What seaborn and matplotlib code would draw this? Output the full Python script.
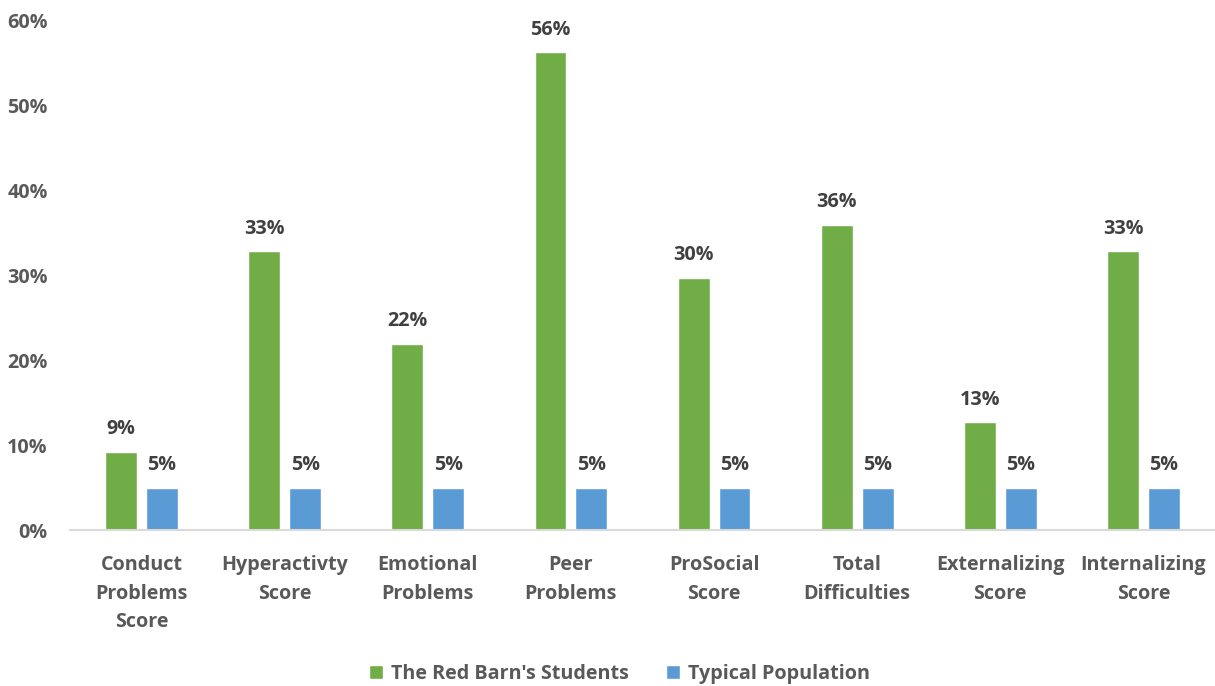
import matplotlib
matplotlib.use("Agg")
import matplotlib.pyplot as plt
import seaborn as sns
import pandas as pd
from matplotlib.ticker import PercentFormatter
from matplotlib.patches import Patch

categories = ["Conduct\nProblems\nScore", "Hyperactivty\nScore", "Emotional\nProblems",
              "Peer\nProblems", "ProSocial\nScore", "Total\nDifficulties",
              "Externalizing\nScore", "Internalizing\nScore"]
series_names = ["The Red Barn's Students", "Typical Population"]
red_barn = [0.092, 0.328, 0.219, 0.562, 0.297, 0.359, 0.127, 0.328]
typical = [0.05, 0.05, 0.05, 0.05, 0.05, 0.05, 0.05, 0.05]
y_ticks = [0, 0.1, 0.2, 0.3, 0.4, 0.5, 0.6]

colors = ["#70AD47", "#5B9BD5"]
txt = "#595959"

df = pd.DataFrame({
    "category": categories * 2,
    "series": [series_names[0]] * len(categories) + [series_names[1]] * len(categories),
    "value": red_barn + typical,
})

sns.set_theme(style="white")
plt.rcParams["font.family"] = ["Open Sans", "DejaVu Sans"]
plt.rcParams["font.weight"] = "bold"

fs = 14.2

fig = plt.figure(figsize=(12.15, 6.86), dpi=100)
ax = fig.add_axes([0.0576, 0.2274, 0.9424, 0.7434])

sns.barplot(data=df, x="category", y="value", hue="series", palette=colors,
            width=0.5715, gap=0.22, ax=ax, legend=False, saturation=1)

for cont in ax.containers:
    for bar in cont:
        h = bar.get_height()
        ax.annotate(f"{h*100:.0f}%", (bar.get_x() + bar.get_width() / 2, h),
                    xytext=(0, 9), textcoords="offset points", ha="center", va="bottom",
                    fontsize=fs, fontweight="bold", color="#404040")

ax.set_ylim(0, 0.6)
ax.set_xlim(-0.5, len(categories) - 0.5)
ax.set_yticks(y_ticks)
ax.yaxis.set_major_formatter(PercentFormatter(1.0, decimals=0))
ax.set_xlabel("")
ax.set_ylabel("")
ax.tick_params(axis="both", length=0, labelsize=fs, colors=txt)
ax.tick_params(axis="x", pad=18)
ax.tick_params(axis="y", pad=16)
for lbl in ax.get_xticklabels() + ax.get_yticklabels():
    lbl.set_fontweight("bold")
    lbl.set_linespacing(1.57)
for s in ["top", "right", "left"]:
    ax.spines[s].set_visible(False)
ax.spines["bottom"].set_color("#D9D9D9")
ax.spines["bottom"].set_linewidth(1.5)
ax.grid(False)

handles = [Patch(facecolor=c, label=n) for c, n in zip(colors, series_names)]
fig.legend(handles=handles, loc="center", bbox_to_anchor=(0.51, 0.018), ncol=2,
           frameon=False, handlelength=0.7, handleheight=0.7, handletextpad=0.4,
           columnspacing=1.9, prop={"size": fs, "weight": "bold"}, labelcolor=txt)

fig.savefig("out.png", dpi=100)
